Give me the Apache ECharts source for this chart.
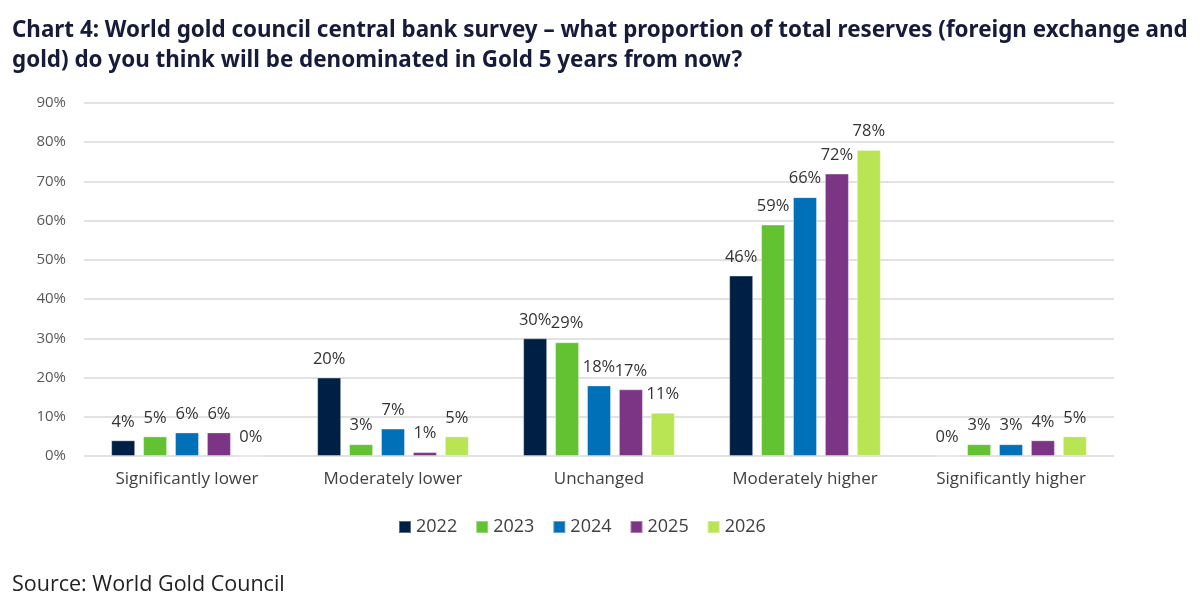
<!DOCTYPE html>
<html>
<head>
<meta charset="utf-8">
<script src="https://cdn.jsdelivr.net/npm/echarts@6/dist/echarts.min.js"></script>
<style>
  html, body { margin: 0; padding: 0; background: #fff; }
  #chart { width: 1200px; height: 598px; }
</style>
</head>
<body>
<div id="chart"></div>
<script>
  // survey answers
  var categories = ['Significantly lower', 'Moderately lower', 'Unchanged', 'Moderately higher', 'Significantly higher']
  var years = ['2022', '2023', '2024', '2025', '2026']
  var s2022 = [4, 20, 30, 46, 0]
  var s2023 = [5, 3, 29, 59, 3]
  var s2024 = [6, 7, 18, 66, 3]
  var s2025 = [6, 1, 17, 72, 4]
  var s2026 = [0, 5, 11, 78, 5]
  var yTicks = [0, 10, 20, 30, 40, 50, 60, 70, 80, 90]

  var colors = ['#001f45', '#62c232', '#0070b8', '#7b3584', '#b9e454']
  var allSeries = [s2022, s2023, s2024, s2025, s2026]

  var chart = echarts.init(document.getElementById('chart'))

  var series = years.map(function (y, i) {
    return {
      name: y,
      type: 'bar',
      data: allSeries[i],
      barWidth: 24,
      barGap: '33%',
      itemStyle: {
        color: colors[i],
        borderColor: 'rgba(255,255,255,0.35)',
        borderWidth: 1
      },
      label: {
        show: true,
        position: 'top',
        distance: 10,
        formatter: '{c}%',
        color: '#333',
        fontSize: 16.5,
        fontFamily: 'Open Sans'
      }
    }
  })

  chart.setOption({
    title: [
      {
        text: 'Chart 4: World gold council central bank survey – what proportion of total reserves (foreign exchange and\ngold) do you think will be denominated in Gold 5 years from now?',
        left: 7,
        top: 11,
        textStyle: {
          color: '#161b3a',
          fontSize: 22.4,
          fontWeight: 'bold',
          fontFamily: 'Noto Sans',
          lineHeight: 30
        }
      },
      {
        text: 'Source: World Gold Council',
        left: 7,
        top: 569,
        textStyle: {
          color: '#222',
          fontSize: 21.5,
          fontWeight: 'normal',
          fontFamily: 'Open Sans'
        }
      }
    ],
    legend: {
      data: years,
      bottom: 57,
      left: 393,
      itemWidth: 12,
      itemHeight: 12,
      itemGap: 18,
      icon: 'rect',
      textStyle: {
        color: '#404040',
        fontSize: 18,
        fontFamily: 'Open Sans'
      }
    },
    grid: {
      left: 84,
      right: 86,
      top: 103,
      bottom: 142,
      containLabel: false
    },
    xAxis: {
      type: 'category',
      data: categories,
      axisLine: { show: false },
      axisTick: { show: false },
      axisLabel: {
        color: '#404040',
        fontSize: 17,
        fontFamily: 'Open Sans',
        margin: 15
      }
    },
    yAxis: {
      type: 'value',
      min: yTicks[0],
      max: yTicks[yTicks.length - 1],
      interval: 10,
      axisLine: { show: false },
      axisTick: { show: false },
      splitLine: { lineStyle: { color: '#d9d9d9', width: 1.5 } },
      axisLabel: {
        formatter: '{value}%',
        color: '#595959',
        fontSize: 15,
        fontFamily: 'Open Sans',
        margin: 18
      }
    },
    series: series
  })
</script>
</body>
</html>
